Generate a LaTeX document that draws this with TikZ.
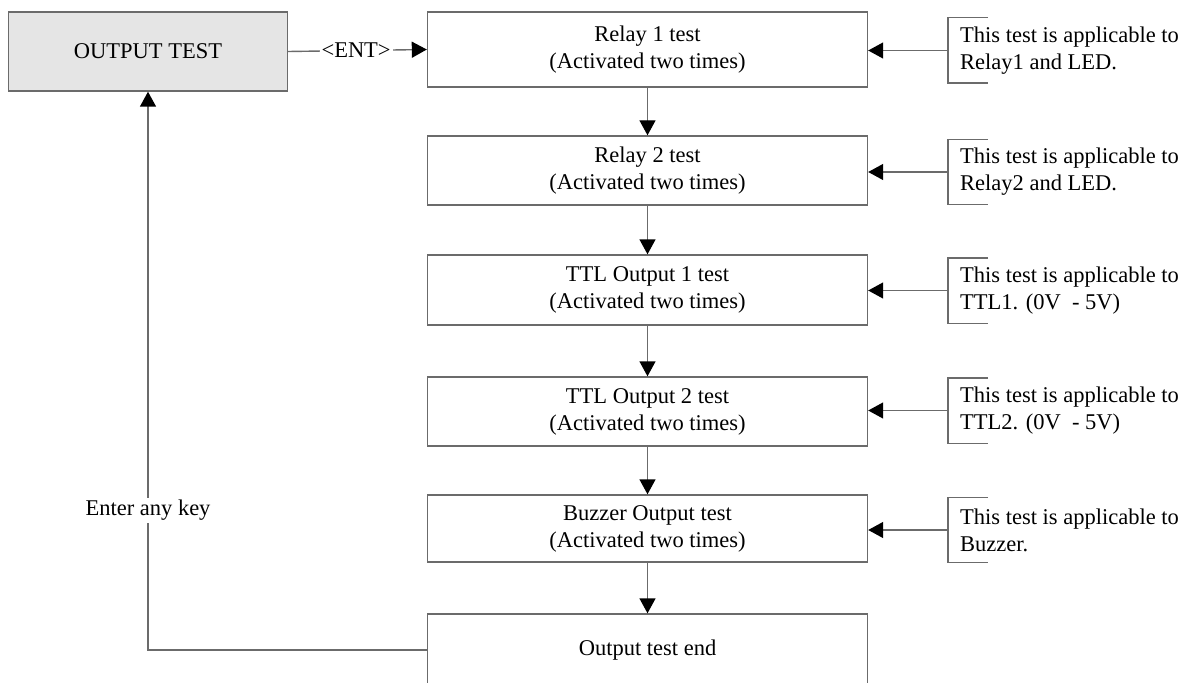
\documentclass[tikz,border=0pt]{standalone}
\usepackage{fontspec}
\setmainfont{Liberation Serif}
\usetikzlibrary{arrows.meta}
\definecolor{ln}{gray}{0.42}
\definecolor{boxfill}{gray}{0.9}
\begin{document}
\begin{tikzpicture}[x=1pt,y=-1pt,
  every node/.style={font=\fontsize{22.5}{27}\selectfont},
  mainbox/.style={draw=ln, line width=1.4pt, minimum width=440pt, align=center, inner sep=0pt},
  note/.style={anchor=west, minimum height=65pt, inner xsep=12pt, inner ysep=0pt, align=left},
  arr/.style={draw=ln, line width=1.4pt, -{Triangle[length=15pt,width=16pt,color=black]}},
  conn/.style={draw=ln, line width=1.4pt}]
\clip (0,0) rectangle (1190,682);
\useasboundingbox (0,0) rectangle (1190,682);

\node[draw=ln, fill=boxfill, line width=1.4pt, minimum width=279pt, minimum height=79pt, inner sep=0pt] (ot) at (148,51.5) {OUTPUT TEST};

\node[mainbox, minimum height=75pt] (r1) at (647.5,49.5) {Relay 1 test\\(Activated two times)};
\node[mainbox, minimum height=69pt] (r2) at (647.5,170.5) {Relay 2 test\\(Activated two times)};
\node[mainbox, minimum height=70pt] (t1) at (647.5,290) {TTL Output 1 test\\(Activated two times)};
\node[mainbox, minimum height=69pt] (t2) at (647.5,411.5) {TTL Output 2 test\\(Activated two times)};
\node[mainbox, minimum height=67pt] (bz) at (647.5,528.5) {Buzzer Output test\\(Activated two times)};
\node[mainbox, minimum height=72pt] (en) at (647.5,650) {Output test end};

\node[note] (a1) at (948,50.5) {This test is applicable to\\Relay1 and LED.};
\node[note] (a2) at (948,172) {This test is applicable to\\Relay2 and LED.};
\node[note] (a3) at (948,290.5) {This test is applicable to\\TTL1. (0V\ \ - 5V)};
\node[note] (a4) at (948,410.5) {This test is applicable to\\TTL2. (0V\ \ - 5V)};
\node[note] (a5) at (948,530) {This test is applicable to\\Buzzer.};

\foreach \a in {a1,a2,a3,a4,a5}{
  \draw[conn] ([xshift=40pt]\a.north west) -- (\a.north west) -- (\a.south west) -- ([xshift=40pt]\a.south west);
}

\draw[arr] (a1.west) -- (a1.west -| r1.east);
\draw[arr] (a2.west) -- (a2.west -| r2.east);
\draw[arr] (a3.west) -- (a3.west -| t1.east);
\draw[arr] (a4.west) -- (a4.west -| t2.east);
\draw[arr] (a5.west) -- (a5.west -| bz.east);

\draw[arr] (r1.south) -- (r2.north);
\draw[arr] (r2.south) -- (t1.north);
\draw[arr] (t1.south) -- (t2.north);
\draw[arr] (t2.south) -- (bz.north);
\draw[arr] (bz.south) -- (en.north);

\draw[arr] (ot.east) -- node[fill=white, inner sep=2pt, pos=0.49] (ent) {<ENT>} (r1.west);

\draw[arr] (en.west) -| node[pos=0.625, fill=white, inner sep=2pt] (key) {Enter any key} (ot.south);
\end{tikzpicture}
\end{document}
